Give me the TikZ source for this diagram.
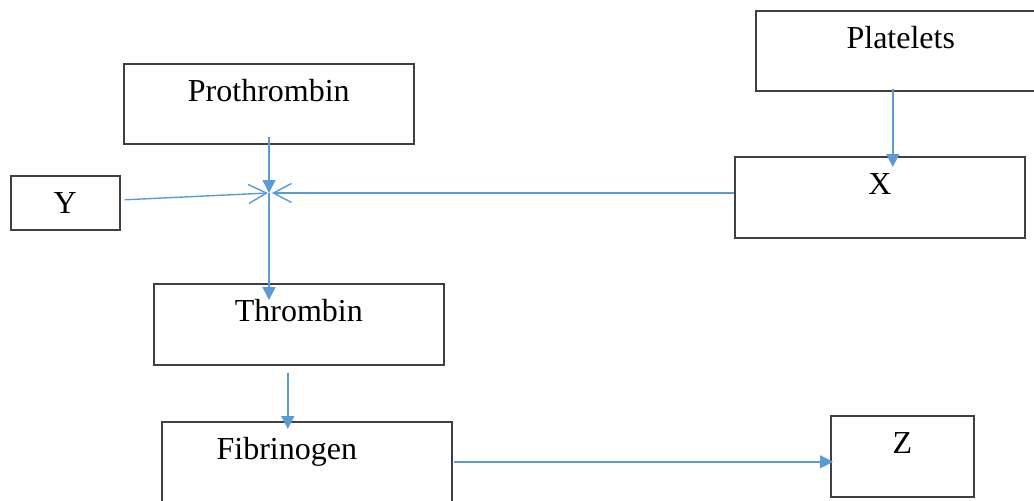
\documentclass[tikz,border=0pt]{standalone}
\usepackage{fontspec}
\setmainfont{Liberation Serif}
\usetikzlibrary{arrows.meta,calc}
\definecolor{boxline}{HTML}{404040}
\definecolor{arrowblue}{HTML}{5B9BD5}
\tikzstyle{stage} = [rectangle, draw=boxline, line width=0.8pt, minimum width=145pt, inner xsep=0pt, inner ysep=0pt, text height=19pt, anchor=north west, font=\fontsize{16}{19}\selectfont]
\tikzstyle{arrow} = [color=arrowblue, line width=0.7pt, -{Triangle[length=6.5pt,width=6.5pt]}]
\tikzstyle{openarrow} = [color=arrowblue, line width=0.7pt, -{Straight Barb[length=9pt,width=9.5pt]}]

\begin{document}
\begin{tikzpicture}[x=0.5pt, y=-0.5pt]
\useasboundingbox (0,0) rectangle (1034,500);
\clip (0,0) rectangle (1034,500);

% Nodes
\node (prothrombin) [stage, text depth=21pt] at (123,63) {Prothrombin};
\node (platelets) [stage, text depth=21pt] at (755,10) {Platelets};
\node (y) [stage, minimum width=54.5pt, text depth=8pt] at (10,175) {Y};
\node (x) [stage, text depth=21.5pt] at (734,156) {X};
\node (thrombin) [stage, text depth=21.5pt] at (153,283) {Thrombin};
\node (fibrinogen) [stage, text depth=21pt] at (161,421) {Fibrinogen\hspace*{20pt}};
\node (z) [stage, minimum width=71.5pt, text depth=21.5pt] at (830,415) {Z};
\coordinate (join) at (269,193);

% Arrows
\draw [arrow] (join |- prothrombin.south) ++(0,-8) -- (join);
\draw [openarrow] ([xshift=2pt,yshift=1.5pt]y.east) -- ([xshift=-0.5pt]join);
\draw [openarrow] (x.west |- join) -- ([xshift=1.5pt]join);
\draw [arrow] (join) -- ($(join |- thrombin.north)+(0,-8.5pt)$);
\draw [arrow] ($(platelets.south)+(-4pt,1.5pt)$) -- ($(platelets.south |- x.north)+(-4pt,-5.5pt)$);
\draw [arrow] ($(thrombin.south)+(-5.5pt,-3.5pt)$) -- ($(thrombin.south |- fibrinogen.north)+(-5.5pt,-4pt)$);
\draw [arrow] ([xshift=0.5pt]fibrinogen.east) -- ($(z.west |- fibrinogen.east)+(1.5pt,0)$);

\end{tikzpicture}
\end{document}
